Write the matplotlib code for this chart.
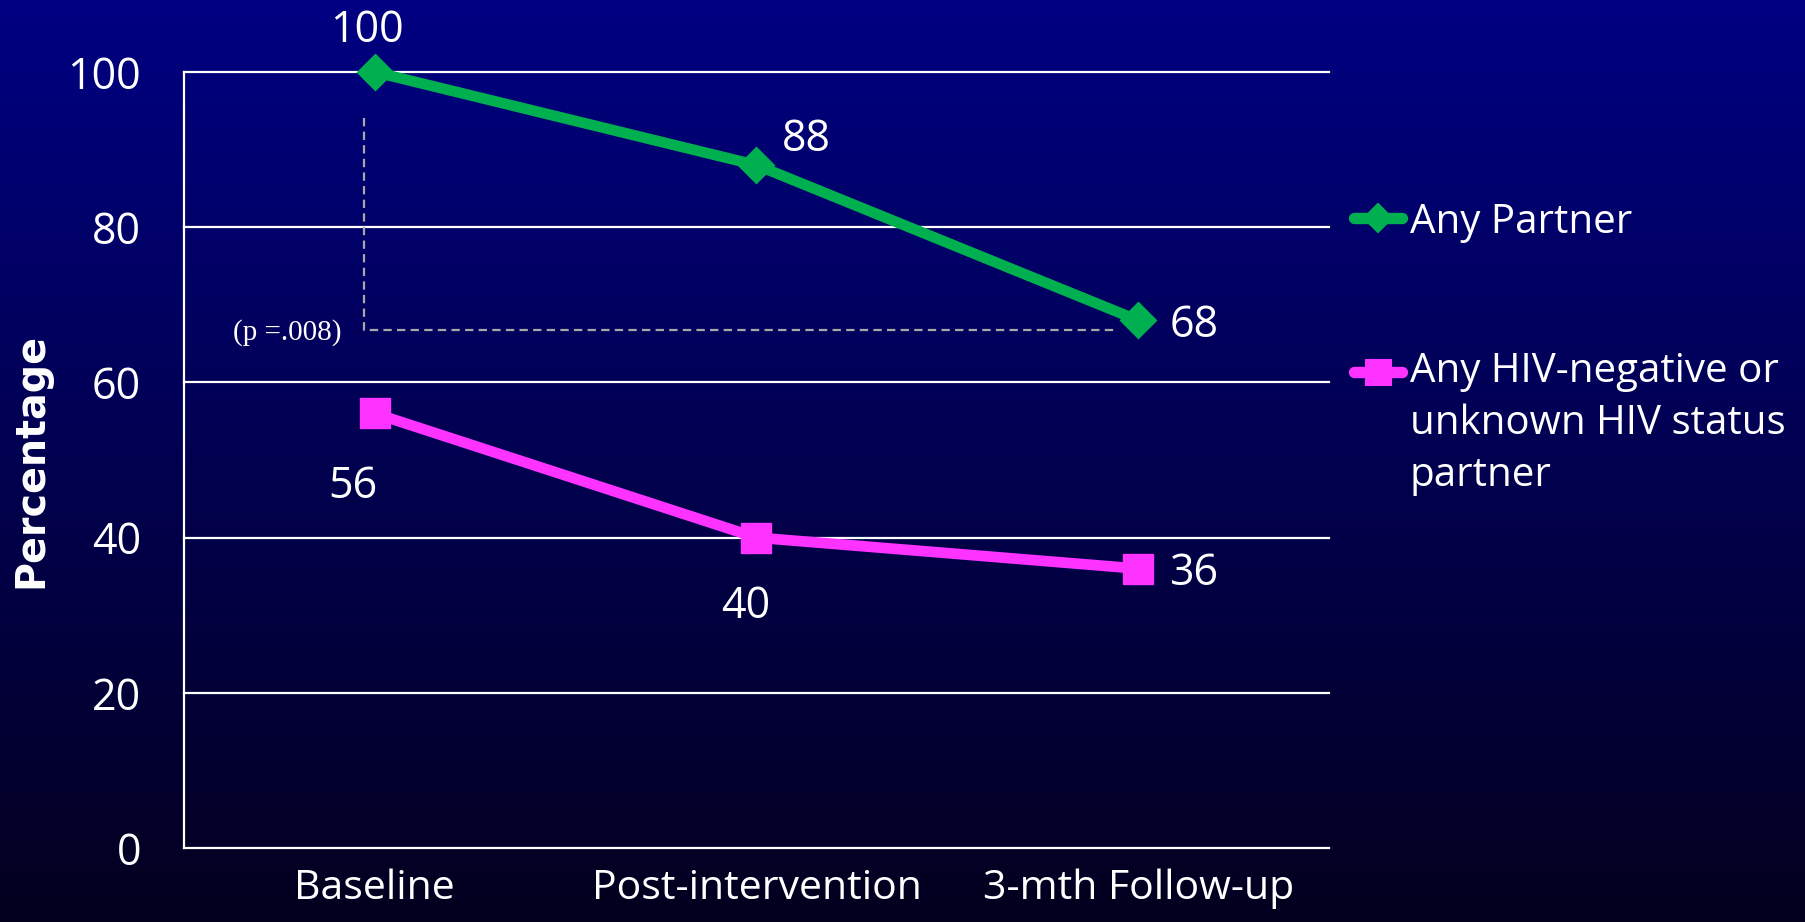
import numpy as np
import matplotlib
matplotlib.use("Agg")
import matplotlib.pyplot as plt
from matplotlib.lines import Line2D

# ---- data -------------------------------------------------------------
categories = ["Baseline", "Post-intervention", "3-mth Follow-up"]
any_partner = [100, 88, 68]
hiv_neg_unknown = [56, 40, 36]
series_names = ["Any Partner", "Any HIV-negative or\nunknown HIV status\npartner"]
y_ticks = [0, 20, 40, 60, 80, 100]
p_value_text = "(p =.008)"

# ---- style ------------------------------------------------------------
W, H, DPI = 1806, 922, 100
GREEN = "#00B050"
MAGENTA = "#FF33FF"
SANS = ["Open Sans", "DejaVu Sans"]
plt.rcParams["lines.scale_dashes"] = False

fig = plt.figure(figsize=(W / DPI, H / DPI), dpi=DPI)


def fx(px):
    return px / W


def fy(py):
    return 1 - py / H


# vertical navy gradient behind everything
bg = fig.add_axes([0, 0, 1, 1], zorder=-10)
top = np.array([0, 0, 130]) / 255
bottom = np.array([3, 0, 30]) / 255
t = np.linspace(0, 1, 256)[:, None]
grad = top[None, :] * (1 - t) + bottom[None, :] * t
bg.imshow(grad[:, None, :].repeat(2, axis=1), aspect="auto", extent=[0, 1, 0, 1])
bg.set_axis_off()

ax_left, ax_right, ax_top, ax_bottom = 184, 1329, 72, 848
ax = fig.add_axes([fx(ax_left), fy(ax_bottom),
                   fx(ax_right) - fx(ax_left), fy(ax_top) - fy(ax_bottom)])
ax.set_facecolor("none")

x = np.arange(len(categories)) + 0.5
ax.set_xlim(0, len(categories))
ax.set_ylim(0, 100)

# gridlines and spines
for v in y_ticks:
    ax.axhline(v, color="white", lw=1.6, zorder=1, clip_on=False)
for side in ["top", "right", "bottom"]:
    ax.spines[side].set_visible(False)
ax.spines["left"].set_color("white")
ax.spines["left"].set_linewidth(1.6)

ax.set_yticks(y_ticks)
ax.set_yticklabels([str(v) for v in y_ticks])
ax.set_xticks(x)
ax.set_xticklabels(categories)
ax.tick_params(axis="y", length=0, pad=31, labelcolor="white", labelsize=31)
ax.tick_params(axis="x", length=0, pad=15, labelcolor="white", labelsize=29.5)
for lab in ax.get_xticklabels() + ax.get_yticklabels():
    lab.set_family(SANS)

ax.set_ylabel("Percentage", color="white", fontsize=28.5, fontweight="bold",
              family=["DejaVu Sans"])
ax.yaxis.label.set_va("center")
ax.yaxis.set_label_coords((31 - ax_left) / (ax_right - ax_left), 0.5)

# significance bracket between baseline and follow-up
bx0 = x[0] - 0.028
bx1 = x[2] - 0.053
ax.plot([bx0, bx0, bx1], [94.1, 66.8, 66.8], color="#A8A8A8", lw=1.6,
        linestyle=(0, (6, 3.8)), zorder=2)
fig.text(fx(287), fy(340), p_value_text, color="white", fontsize=21,
         family=["Liberation Serif", "DejaVu Serif"], ha="center", va="baseline")

# series lines
ax.plot(x, any_partner, color=GREEN, lw=7.7, marker="D", ms=17, mew=2,
        mec=GREEN, mfc=GREEN, solid_joinstyle="round", zorder=4, clip_on=False)
ax.plot(x, hiv_neg_unknown, color=MAGENTA, lw=7.7, marker="s", ms=22, mew=1,
        mec=MAGENTA, mfc=MAGENTA, zorder=4, clip_on=False)

# value labels (offsets in points)
green_offsets = [(-6, 34), (36, 22), (40, 0)]
pink_offsets = [(-16, -49), (-8, -46), (40, 0)]
for xi, v, off in zip(x, any_partner, green_offsets):
    ax.annotate(str(v), (xi, v), xytext=off, textcoords="offset points",
                ha="center", va="center_baseline", color="white",
                fontsize=31, family=SANS, annotation_clip=False)
for xi, v, off in zip(x, hiv_neg_unknown, pink_offsets):
    ax.annotate(str(v), (xi, v), xytext=off, textcoords="offset points",
                ha="center", va="center_baseline", color="white",
                fontsize=31, family=SANS, annotation_clip=False)

# legend drawn beside the plot: (label, colour, marker, size, handle y, last baseline y)
legend_rows = [
    (series_names[0], GREEN, "D", 14, 218, 233),
    (series_names[1], MAGENTA, "s", 18, 372, 486),
]
for label, col, mk, ms, yc, ybase in legend_rows:
    fig.add_artist(Line2D([fx(1354), fx(1402)], [fy(yc), fy(yc)],
                          transform=fig.transFigure, color=col, lw=8.2,
                          solid_capstyle="round"))
    fig.add_artist(Line2D([fx(1378)], [fy(yc)], transform=fig.transFigure,
                          marker=mk, ms=ms, mfc=col, mec=col, mew=1.5,
                          linestyle="none"))
    fig.text(fx(1410), fy(ybase), label, color="white", fontsize=29,
             family=SANS, ha="left", va="baseline", linespacing=1.38)

fig.savefig("out.png", dpi=DPI)
